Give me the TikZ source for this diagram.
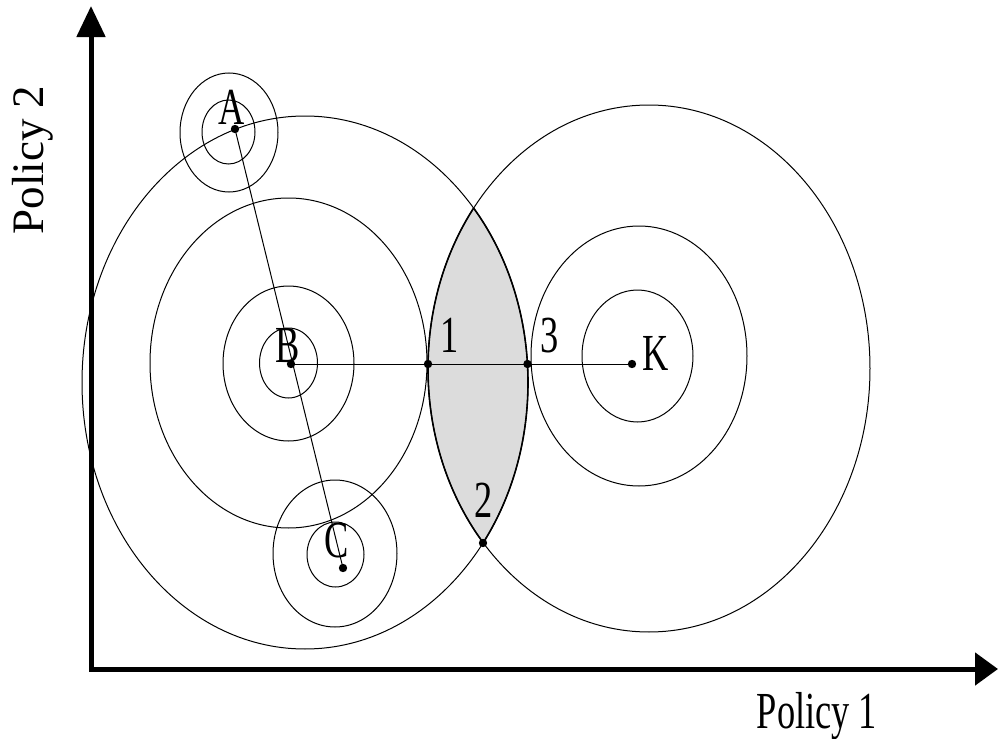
\documentclass[tikz,border=0pt]{standalone}
\usepackage{fontspec}
\setmainfont{Liberation Serif}[FakeStretch=0.7]
\newfontfamily\axisfont{Liberation Serif}
\usepackage{tikz}
\usetikzlibrary{arrows.meta, positioning}
\definecolor{lensgray}{RGB}{220, 220, 220}

\begin{document}
\begin{tikzpicture}[
    x=0.5pt, y=-0.5pt,
    contour/.style={draw=black, line width=0.5pt},
    edgeline/.style={draw=black, line width=0.8pt},
    pt/.style={circle, fill=black, inner sep=0pt, minimum size=4.2pt},
    lbl/.style={anchor=base, inner sep=0pt, font=\fontsize{26}{28}\selectfont},
    axis/.style={line width=2.5pt, color=black, line join=miter}
]
    \useasboundingbox (0,0) rectangle (998,739);

    % shaded overlap of the two large contours
    \begin{scope}
        \clip (305,382.5) ellipse [x radius=223, y radius=266.5];
        \fill[lensgray] (649,368.5) ellipse [x radius=221, y radius=263.5];
    \end{scope}

    % contour ellipses around A, B, C and K
    \foreach \cx/\cy/\rx/\ry in {229/132.5/49/59.5, 228.5/132/26.5/32,
        305/382.5/223/266.5, 288.5/363/138.5/165, 288.5/363.5/65.5/77.5, 288.5/363/29/35,
        335/553.5/62/73.5, 335.5/554.5/28.5/32.5,
        649/368.5/221/263.5, 639/356/108/130, 637.5/356/55.5/66}
        \draw[contour] (\cx,\cy) ellipse [x radius=\rx, y radius=\ry];

    % edges of the overlap
    \begin{scope}
        \clip (305,382.5) ellipse [x radius=223, y radius=266.5];
        \draw[edgeline] (649,368.5) ellipse [x radius=221, y radius=263.5];
    \end{scope}
    \begin{scope}
        \clip (649,368.5) ellipse [x radius=221, y radius=263.5];
        \draw[edgeline] (305,382.5) ellipse [x radius=223, y radius=266.5];
    \end{scope}

    % axes
    \coordinate (O) at (91,669);
    \coordinate (ytip) at (91,6);
    \coordinate (xtip) at (998,669);
    \draw[axis, {Triangle[length=15.5pt, width=14pt]}-{Triangle[length=11.5pt, width=16pt]}] (ytip) -- (O) -- (xtip);

    % points
    \node[pt] (A) at (235,129) {};
    \node[pt] (B) at (291,364) {};
    \node[pt] (C) at (343,568) {};
    \node[pt] (K) at (632,364) {};
    \node[pt] (p1) at (428,364) {};
    \node[pt] (p2) at (483,543) {};
    \node[pt] (p3) at (527.5,364) {};

    \draw[contour] (A.center) -- (C.center);
    \draw[contour] (B.center) -- (K.center);

    % labels
    \node[lbl] (lA) at (232,125) {A};
    \node[lbl] (lB) at (288,362) {B};
    \node[lbl] (lC) at (337,557) {C};
    \node[lbl] (lK) at (656,370) {K};
    \node[lbl] (l1) at (450,352) {1};
    \node[lbl] (l2) at (484,517) {2};
    \node[lbl] (l3) at (550,352) {3};
    \node[lbl] (xlabel) at (817,728) {Policy 1};
    \node[anchor=base, inner sep=0pt, rotate=90, font=\axisfont\fontsize{22.5}{24}\selectfont] (ylabel) at (43,160) {Policy 2};
\end{tikzpicture}
\end{document}
